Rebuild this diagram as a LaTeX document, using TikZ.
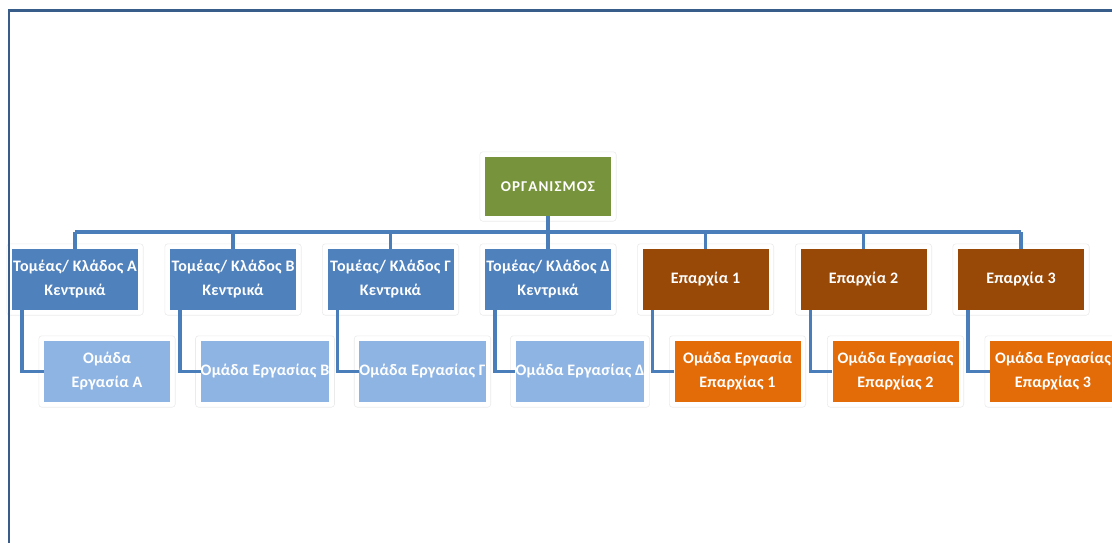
\documentclass[tikz,border=0pt]{standalone}
\usepackage{fontspec}
\setmainfont{Carlito}
\usetikzlibrary{backgrounds,calc}
\definecolor{frameblue}{HTML}{385D8A}
\definecolor{connblue}{HTML}{4A7EBB}
\definecolor{lvlblue}{HTML}{4F81BD}
\definecolor{rootgreen}{HTML}{77933C}
\definecolor{provbrown}{HTML}{984807}
\definecolor{childblue}{HTML}{8EB4E3}
\definecolor{childorange}{HTML}{E36C09}
\tikzset{
  box/.style={rectangle, inner sep=0pt, minimum width=126pt, minimum height=61pt,
    text=white, align=center, font=\bfseries\fontsize{16}{24}\selectfont\addfontfeature{LetterSpace=1.5}},
  rootbox/.style={box, fill=rootgreen, minimum height=59pt, font=\bfseries\fontsize{15}{20}\selectfont\addfontfeature{LetterSpace=7}},
  hqbox/.style={box, fill=lvlblue},
  provbox/.style={box, fill=provbrown},
  teambox/.style={box, fill=childblue},
  provteambox/.style={box, fill=childorange},
  conn/.style={draw=connblue, line width=3.5pt},
  halo/.style={draw=black!8, line width=0.6pt, fill=white, rounded corners=3pt},
}
\begin{document}
\begin{tikzpicture}[x=1pt,y=-1pt]
\useasboundingbox (0,0) rectangle (1112,543);
% frame
\draw[frameblue, line width=2.5pt] (9,543) -- (9,10.5) -- (1112,10.5);

\node[rootbox] (root) at (548,186.5) {ΟΡΓΑΝΙΣΜΟΣ};

\node[hqbox] (a1) at (75,279.5) {Τομέας/ Κλάδος Α\\Κεντρικά};
\node[hqbox] (a2) at (233,279.5) {Τομέας/ Κλάδος Β\\Κεντρικά};
\node[hqbox] (a3) at (390.5,279.5) {Τομέας/ Κλάδος Γ\\Κεντρικά};
\node[hqbox] (a4) at (548,279.5) {Τομέας/ Κλάδος Δ\\Κεντρικά};
\node[provbox] (a5) at (705.5,279.5) {Επαρχία 1};
\node[provbox] (a6) at (863.5,279.5) {Επαρχία 2};
\node[provbox] (a7) at (1021,279.5) {Επαρχία 3};

\node[teambox] (b1) at (107,371.5) {Ομάδα\\Εργασία Α};
\node[teambox] (b2) at (265,371.5) {Ομάδα Εργασίας Β};
\node[teambox] (b3) at (422.5,371.5) {Ομάδα Εργασίας Γ};
\node[teambox] (b4) at (580,371.5) {Ομάδα Εργασίας Δ};
\node[provteambox] (b5) at (737.5,371.5) {Ομάδα Εργασία\\Επαρχίας 1};
\node[provteambox] (b6) at (895.5,371.5) {Ομάδα Εργασίας\\Επαρχίας 2};
\node[provteambox] (b7) at (1053,371.5) {Ομάδα Εργασίας\\Επαρχίας 3};

\coordinate (bus) at (0,232);

\begin{scope}[on background layer]
  \foreach \n in {root,a1,a2,a3,a4,a5,a6,a7,b1,b2,b3,b4,b5,b6,b7}
    \draw[halo] ($(\n.south west)+(-5,5)$) rectangle ($(\n.north east)+(5,-5)$);
  \draw[conn] (root.south) -- (root.south |- bus);
  \draw[conn] (a1.north |- bus) -- (a7.north |- bus);
  \foreach \n in {a1,a2,a3,a4,a5,a6,a7}
    \draw[conn] (\n.north |- bus) -- (\n.north);
  \foreach \i in {1,...,7}
    \draw[conn] ([xshift=10pt]a\i.south west) |- (b\i.west);
\end{scope}
\end{tikzpicture}
\end{document}
